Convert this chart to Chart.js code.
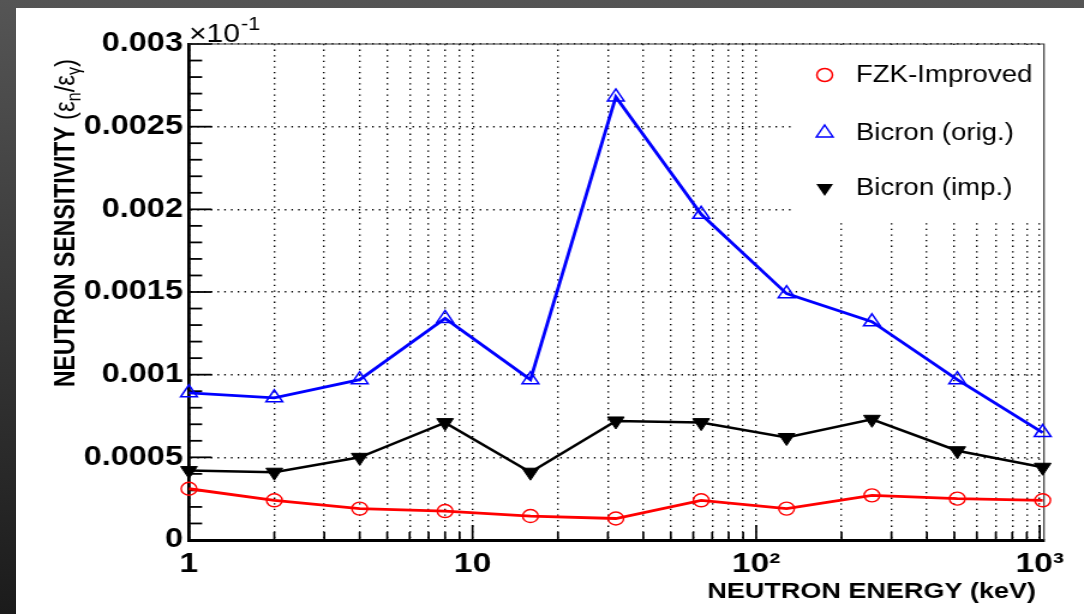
<!DOCTYPE html>
<html>
<head>
<meta charset="utf-8">
<script src="https://cdn.jsdelivr.net/npm/chart.js@4/dist/chart.umd.min.js"></script>
<style>
  html, body { margin: 0; padding: 0; }
  body {
    width: 1084px; height: 614px; overflow: hidden; position: relative;
    background: linear-gradient(#555555, #1b1b1b);
  }
  #paper { position: absolute; left: 16px; top: 8px; width: 1068px; height: 606px; background: #fff; }
  /* the plot is laid out narrow and widened, so the lettering comes out broad */
  #line { position: absolute; left: 0; top: 0; transform-origin: 0 0; transform: scaleX(1.2004); }
</style>
</head>
<body>
<div id="paper"></div>
<canvas id="line" width="903" height="614"></canvas>
<script>
// neutron energies in keV
const energies = [1, 2, 4, 8, 16, 32, 64, 128, 256, 512, 1024];

const fzkImproved = [0.00031, 0.00024, 0.00019, 0.000175, 0.000145, 0.00013, 0.00024, 0.00019, 0.00027, 0.00025, 0.00024];
const bicronOrig = [0.00089, 0.00086, 0.00097, 0.00134, 0.00097, 0.00268, 0.00197, 0.00149, 0.00132, 0.00097, 0.00065];
const bicronImp = [0.00042, 0.00041, 0.00050, 0.00071, 0.00041, 0.00072, 0.00071, 0.00062, 0.00073, 0.00054, 0.00044];

const seriesNames = ['FZK-Improved', 'Bicron (orig.)', 'Bicron (imp.)'];

// log axis ticks, one grid line each
const xTicks = [1, 2, 3, 4, 5, 6, 7, 8, 9,
                10, 20, 30, 40, 50, 60, 70, 80, 90,
                100, 200, 300, 400, 500, 600, 700, 800, 900, 1000];
const xLabels = { 1: '1', 10: '10', 100: '10\u00B2', 1000: '10\u00B3' };

const FONT = "'Liberation Sans', Arial, sans-serif";

const toPoints = (ys) => energies.map((e, i) => ({ x: e, y: ys[i] }));

function drawMarker(ctx, style, x, y, r, color, filled) {
  ctx.beginPath();
  if (style === 'circle') {
    ctx.arc(x, y, r, 0, Math.PI * 2);
  } else {
    const s = style === 'down' ? -1 : 1;
    ctx.moveTo(x, y - s * r);
    ctx.lineTo(x + 0.866 * r, y + s * r / 2);
    ctx.lineTo(x - 0.866 * r, y + s * r / 2);
    ctx.closePath();
  }
  if (filled) { ctx.fillStyle = color; ctx.fill(); }
  else { ctx.strokeStyle = color; ctx.lineWidth = 1.5; ctx.stroke(); }
}

const framePlugin = {
  id: 'frame',
  beforeDatasetsDraw(chart) {
    const { ctx, chartArea: a, scales: { x, y } } = chart;
    ctx.save();

    // blank corner behind the legend
    ctx.fillStyle = '#fff';
    ctx.fillRect(660, a.top + 1, a.right - 660, 221 - a.top);

    // tick marks point into the plot
    ctx.strokeStyle = '#000';
    ctx.lineWidth = 1.8;
    for (let i = 0; i <= 30; i++) {
      const py = y.getPixelForValue(i * 0.0001);
      const len = i % 5 === 0 ? 19 : 11;
      ctx.beginPath();
      ctx.moveTo(a.left, py);
      ctx.lineTo(a.left + len, py);
      ctx.stroke();
    }
    ctx.lineWidth = 1.7;
    xTicks.forEach(v => {
      const px = x.getPixelForValue(v);
      const len = xLabels[v] ? 15 : 8;
      ctx.beginPath();
      ctx.moveTo(px, a.bottom);
      ctx.lineTo(px, a.bottom - len);
      ctx.stroke();
    });

    // thin top and right edges
    ctx.strokeStyle = '#333';
    ctx.lineWidth = 1.2;
    ctx.beginPath();
    ctx.moveTo(a.left, a.top);
    ctx.lineTo(a.right, a.top);
    ctx.lineTo(a.right, a.bottom);
    ctx.stroke();

    // legend
    const rows = [75, 133, 188];
    const marks = [['circle', '#ff0000', false, 6.5], ['up', '#0000ff', false, 8], ['down', '#000', true, 8]];
    ctx.font = '23px ' + FONT;
    ctx.textBaseline = 'middle';
    seriesNames.forEach((name, i) => {
      const [st, col, fill, r] = marks[i];
      drawMarker(ctx, st, 687, rows[i], r, col, fill);
      ctx.fillStyle = '#000';
      ctx.textAlign = 'left';
      ctx.fillText(name, 713, rows[i] + 1);
    });
    ctx.restore();
  },
  afterDraw(chart) {
    const { ctx, chartArea: a } = chart;
    ctx.save();
    ctx.fillStyle = '#000';

    // x axis title
    ctx.font = 'bold 22.5px ' + FONT;
    ctx.textAlign = 'right';
    ctx.textBaseline = 'alphabetic';
    ctx.fillText('NEUTRON ENERGY (keV)', 863, 598);

    // exponent of the y scale
    ctx.font = '25px ' + FONT;
    ctx.textAlign = 'left';
    ctx.fillText('\u00D710', a.left, 42);
    const w = ctx.measureText('\u00D710').width;
    ctx.font = '18px ' + FONT;
    ctx.fillText('-1', a.left + w + 1, 30);

    // y axis title, rotated, with subscripts
    ctx.translate(61.5, 387);
    ctx.rotate(-Math.PI / 2);
    let cx = 0;
    const piece = (txt, font, dy) => {
      ctx.font = font;
      ctx.fillText(txt, cx, dy);
      cx += ctx.measureText(txt).width;
    };
    piece('NEUTRON SENSITIVITY ', 'bold 23px ' + FONT, 0);
    piece('(\u03B5', '24px ' + FONT, 0);
    piece('n', '16px ' + FONT, 5);
    piece('/\u03B5', '24px ' + FONT, 0);
    piece('\u03B3', '16px ' + FONT, 5);
    piece(')', '24px ' + FONT, 0);
    ctx.restore();
  }
};

const lineConfig = {
  type: 'line',
  data: {
    datasets: [
      {
        label: seriesNames[0],
        data: toPoints(fzkImproved),
        borderColor: '#ff0000',
        borderWidth: 2.8,
        pointStyle: 'circle',
        pointRadius: 6.5,
        pointBorderWidth: 1.4,
        pointBackgroundColor: 'rgba(0,0,0,0)',
        pointBorderColor: '#ff0000',
        clip: false,
      },
      {
        label: seriesNames[1],
        data: toPoints(bicronOrig),
        borderColor: '#0000ff',
        borderWidth: 2.8,
        pointStyle: 'triangle',
        pointRadius: 8,
        pointBorderWidth: 1.5,
        pointBackgroundColor: 'rgba(0,0,0,0)',
        pointBorderColor: '#0000ff',
        clip: false,
      },
      {
        label: seriesNames[2],
        data: toPoints(bicronImp),
        borderColor: '#000',
        borderWidth: 2.5,
        pointStyle: 'triangle',
        pointRotation: 180,
        pointRadius: 8,
        pointBorderWidth: 1,
        pointBackgroundColor: '#000',
        pointBorderColor: '#000',
        clip: false,
      },
    ],
  },
  options: {
    responsive: false,
    animation: false,
    events: [],
    devicePixelRatio: 1,
    layout: { padding: { top: 44, right: 33.3, left: 0, bottom: 0 } },
    plugins: { legend: { display: false }, tooltip: { enabled: false } },
    scales: {
      x: {
        type: 'logarithmic',
        min: 1,
        max: 1035,
        afterBuildTicks: (s) => { s.ticks = xTicks.map(v => ({ value: v })); },
        afterFit: (s) => { s.height = 74; },
        grid: { color: '#000', lineWidth: 1.4, drawTicks: false },
        border: { display: true, color: '#000', width: 3, dash: [1.3, 4.3] },
        ticks: {
          autoSkip: false,
          maxRotation: 0,
          minRotation: 0,
          padding: 7,
          color: '#000',
          font: { family: FONT, size: 28, weight: 'bold' },
          callback: (v) => xLabels[v] || '',
        },
      },
      y: {
        min: 0,
        max: 0.003,
        afterFit: (s) => { s.width = 157.4; },
        grid: { color: '#000', lineWidth: 1.4, drawTicks: false },
        border: { display: true, color: '#000', width: 2.8, dash: [1.3, 4.3] },
        ticks: {
          stepSize: 0.0005,
          padding: 5,
          color: '#000',
          font: { family: FONT, size: 27, weight: 'bold' },
          callback: (v) => String(+v.toFixed(4)),
        },
      },
    },
  },
  plugins: [framePlugin],
};

window.myLine = new Chart(document.getElementById('line'), lineConfig);
</script>
</body>
</html>
